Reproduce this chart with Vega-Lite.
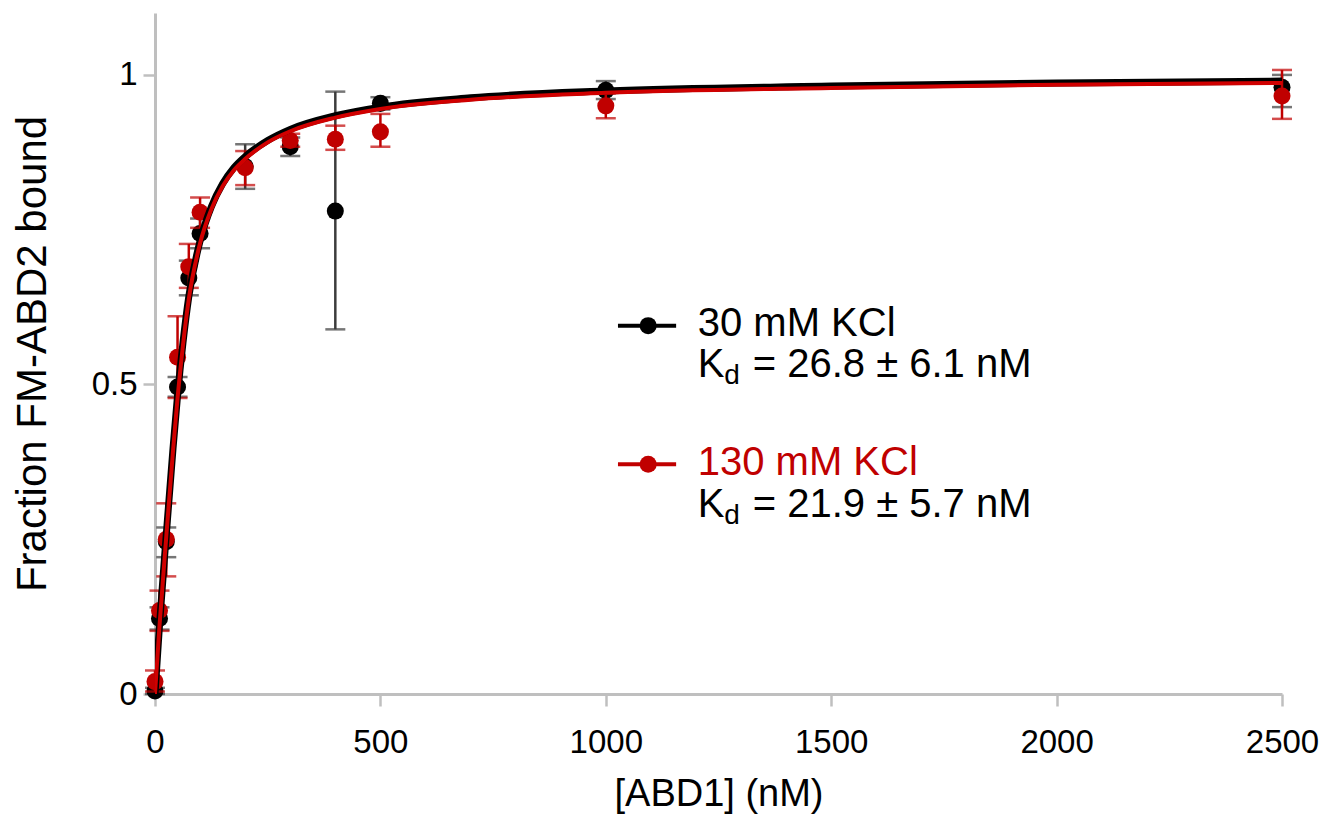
{
  "$schema": "https://vega.github.io/schema/vega-lite/v6.json",
  "width": 1127,
  "height": 681,
  "autosize": {"type": "none"},
  "padding": {"left": 155, "top": 13, "right": 42, "bottom": 125},
  "background": "#ffffff",
  "config": {
    "view": {"stroke": null},
    "font": "Liberation Sans",
    "axis": {
      "grid": false,
      "domainColor": "#bfbfbf",
      "domainWidth": 3,
      "tickColor": "#bfbfbf",
      "tickWidth": 2.5,
      "tickSize": 12,
      "labelColor": "#000000",
      "labelFont": "Liberation Sans",
      "labelFontSize": 33,
      "labelFlush": false,
      "labelOverlap": false,
      "titleFont": "Liberation Sans",
      "titleFontWeight": "normal",
      "titleColor": "#000000"
    }
  },
  "datasets": {
    "points": [
      {"series": "30 mM KCl", "x": 0, "y": 0.005, "lo": 0.0, "hi": 0.01},
      {"series": "30 mM KCl", "x": 10, "y": 0.122, "lo": 0.104, "hi": 0.14},
      {"series": "30 mM KCl", "x": 25, "y": 0.246, "lo": 0.221, "hi": 0.269},
      {"series": "30 mM KCl", "x": 50, "y": 0.496, "lo": 0.48, "hi": 0.512},
      {"series": "30 mM KCl", "x": 75, "y": 0.672, "lo": 0.644, "hi": 0.7},
      {"series": "30 mM KCl", "x": 100, "y": 0.744, "lo": 0.72, "hi": 0.768},
      {"series": "30 mM KCl", "x": 200, "y": 0.852, "lo": 0.816, "hi": 0.888},
      {"series": "30 mM KCl", "x": 300, "y": 0.884, "lo": 0.869, "hi": 0.899},
      {"series": "30 mM KCl", "x": 400, "y": 0.78, "lo": 0.589, "hi": 0.973},
      {"series": "30 mM KCl", "x": 500, "y": 0.954, "lo": 0.944, "hi": 0.964},
      {"series": "30 mM KCl", "x": 1000, "y": 0.975, "lo": 0.961, "hi": 0.99},
      {"series": "30 mM KCl", "x": 2500, "y": 0.98, "lo": 0.948, "hi": 1.0},
      {"series": "130 mM KCl", "x": 0, "y": 0.02, "lo": 0.004, "hi": 0.038},
      {"series": "130 mM KCl", "x": 10, "y": 0.135, "lo": 0.102, "hi": 0.167},
      {"series": "130 mM KCl", "x": 25, "y": 0.25, "lo": 0.19, "hi": 0.308},
      {"series": "130 mM KCl", "x": 50, "y": 0.544, "lo": 0.478, "hi": 0.61},
      {"series": "130 mM KCl", "x": 75, "y": 0.69, "lo": 0.656, "hi": 0.727},
      {"series": "130 mM KCl", "x": 100, "y": 0.778, "lo": 0.753, "hi": 0.802},
      {"series": "130 mM KCl", "x": 200, "y": 0.85, "lo": 0.822, "hi": 0.877},
      {"series": "130 mM KCl", "x": 300, "y": 0.894, "lo": 0.884, "hi": 0.905},
      {"series": "130 mM KCl", "x": 400, "y": 0.896, "lo": 0.879, "hi": 0.918},
      {"series": "130 mM KCl", "x": 500, "y": 0.908, "lo": 0.884, "hi": 0.937},
      {"series": "130 mM KCl", "x": 1000, "y": 0.95, "lo": 0.93, "hi": 0.97},
      {"series": "130 mM KCl", "x": 2500, "y": 0.966, "lo": 0.929, "hi": 1.008}
    ],
    "curve": [
      {"series": "30 mM KCl", "x": 0, "y": 0.0},
      {"series": "30 mM KCl", "x": 10, "y": 0.112},
      {"series": "30 mM KCl", "x": 25, "y": 0.257},
      {"series": "30 mM KCl", "x": 40, "y": 0.397},
      {"series": "30 mM KCl", "x": 50, "y": 0.482},
      {"series": "30 mM KCl", "x": 62, "y": 0.567},
      {"series": "30 mM KCl", "x": 75, "y": 0.642},
      {"series": "30 mM KCl", "x": 100, "y": 0.732},
      {"series": "30 mM KCl", "x": 125, "y": 0.787},
      {"series": "30 mM KCl", "x": 150, "y": 0.824},
      {"series": "30 mM KCl", "x": 175, "y": 0.85},
      {"series": "30 mM KCl", "x": 200, "y": 0.868},
      {"series": "30 mM KCl", "x": 250, "y": 0.894},
      {"series": "30 mM KCl", "x": 300, "y": 0.912},
      {"series": "30 mM KCl", "x": 400, "y": 0.934},
      {"series": "30 mM KCl", "x": 500, "y": 0.948},
      {"series": "30 mM KCl", "x": 700, "y": 0.963},
      {"series": "30 mM KCl", "x": 1000, "y": 0.974},
      {"series": "30 mM KCl", "x": 1500, "y": 0.982},
      {"series": "30 mM KCl", "x": 2000, "y": 0.987},
      {"series": "30 mM KCl", "x": 2500, "y": 0.99},
      {"series": "130 mM KCl", "x": 0, "y": 0.0},
      {"series": "130 mM KCl", "x": 10, "y": 0.11},
      {"series": "130 mM KCl", "x": 25, "y": 0.254},
      {"series": "130 mM KCl", "x": 40, "y": 0.393},
      {"series": "130 mM KCl", "x": 50, "y": 0.478},
      {"series": "130 mM KCl", "x": 62, "y": 0.563},
      {"series": "130 mM KCl", "x": 75, "y": 0.638},
      {"series": "130 mM KCl", "x": 100, "y": 0.728},
      {"series": "130 mM KCl", "x": 125, "y": 0.783},
      {"series": "130 mM KCl", "x": 150, "y": 0.82},
      {"series": "130 mM KCl", "x": 175, "y": 0.846},
      {"series": "130 mM KCl", "x": 200, "y": 0.864},
      {"series": "130 mM KCl", "x": 250, "y": 0.891},
      {"series": "130 mM KCl", "x": 300, "y": 0.909},
      {"series": "130 mM KCl", "x": 400, "y": 0.931},
      {"series": "130 mM KCl", "x": 500, "y": 0.945},
      {"series": "130 mM KCl", "x": 700, "y": 0.96},
      {"series": "130 mM KCl", "x": 1000, "y": 0.971},
      {"series": "130 mM KCl", "x": 1500, "y": 0.979},
      {"series": "130 mM KCl", "x": 2000, "y": 0.984},
      {"series": "130 mM KCl", "x": 2500, "y": 0.987}
    ],
    "legend": [
      {"series": "30 mM KCl", "x1": 1027, "x2": 1156, "xp": 1094, "y": 0.595},
      {"series": "130 mM KCl", "x1": 1027, "x2": 1156, "xp": 1094, "y": 0.371}
    ],
    "legendText": [
      {"series": "30 mM KCl", "name": "30 mM KCl", "xn": 1204, "yn": 0.598, "kd": "= 26.8 ± 6.1 nM", "xk": 1204, "xd": 1263, "xe": 1326, "yk": 0.532, "yd": 0.513},
      {"series": "130 mM KCl", "name": "130 mM KCl", "xn": 1204, "yn": 0.373, "kd": "= 21.9 ± 5.7 nM", "xk": 1204, "xd": 1263, "xe": 1326, "yk": 0.306, "yd": 0.287}
    ]
  },
  "layer": [
    {
      "data": {"name": "points"},
      "transform": [{"filter": "datum.series == '30 mM KCl'"}],
      "mark": {"type": "rule", "color": "#3c3c3c", "strokeWidth": 2.5},
      "encoding": {
        "x": {"field": "x", "type": "quantitative", "scale": {"domain": [0, 2500], "nice": false},
              "axis": {"values": [0, 500, 1000, 1500, 2000, 2500], "format": "d", "title": "[ABD1] (nM)", "titleFontSize": 38, "labelPadding": 20, "titlePadding": 16}},
        "y": {"field": "lo", "type": "quantitative", "scale": {"domain": [0, 1.1], "nice": false},
              "axis": {"values": [0, 0.5, 1], "format": "~g", "title": "Fraction FM-ABD2 bound", "titleFontSize": 42, "labelPadding": 6, "titlePadding": 37}},
        "y2": {"field": "hi"}
      }
    },
    {
      "data": {"name": "points"},
      "transform": [{"filter": "datum.series == '30 mM KCl'"}],
      "mark": {"type": "tick", "orient": "horizontal", "color": "#3c3c3c", "size": 20, "thickness": 2.5},
      "encoding": {"x": {"field": "x", "type": "quantitative"}, "y": {"field": "lo", "type": "quantitative"}}
    },
    {
      "data": {"name": "points"},
      "transform": [{"filter": "datum.series == '30 mM KCl'"}],
      "mark": {"type": "tick", "orient": "horizontal", "color": "#3c3c3c", "size": 20, "thickness": 2.5},
      "encoding": {"x": {"field": "x", "type": "quantitative"}, "y": {"field": "hi", "type": "quantitative"}}
    },
    {
      "data": {"name": "points"},
      "transform": [{"filter": "datum.series == '30 mM KCl'"}],
      "mark": {"type": "point", "shape": "circle", "filled": true, "color": "#000000", "opacity": 1, "size": 290},
      "encoding": {"x": {"field": "x", "type": "quantitative"}, "y": {"field": "y", "type": "quantitative"}}
    },
    {
      "data": {"name": "points"},
      "transform": [{"filter": "datum.series == '130 mM KCl'"}],
      "mark": {"type": "rule", "color": "#c00000", "strokeWidth": 2.5},
      "encoding": {"x": {"field": "x", "type": "quantitative"}, "y": {"field": "lo", "type": "quantitative"}, "y2": {"field": "hi"}}
    },
    {
      "data": {"name": "points"},
      "transform": [{"filter": "datum.series == '130 mM KCl'"}],
      "mark": {"type": "tick", "orient": "horizontal", "color": "#c00000", "size": 20, "thickness": 2.5},
      "encoding": {"x": {"field": "x", "type": "quantitative"}, "y": {"field": "lo", "type": "quantitative"}}
    },
    {
      "data": {"name": "points"},
      "transform": [{"filter": "datum.series == '130 mM KCl'"}],
      "mark": {"type": "tick", "orient": "horizontal", "color": "#c00000", "size": 20, "thickness": 2.5},
      "encoding": {"x": {"field": "x", "type": "quantitative"}, "y": {"field": "hi", "type": "quantitative"}}
    },
    {
      "data": {"name": "points"},
      "transform": [{"filter": "datum.series == '130 mM KCl'"}],
      "mark": {"type": "point", "shape": "circle", "filled": true, "color": "#c00000", "opacity": 1, "size": 290},
      "encoding": {"x": {"field": "x", "type": "quantitative"}, "y": {"field": "y", "type": "quantitative"}}
    },
    {
      "data": {"name": "curve"},
      "transform": [{"filter": "datum.series == '30 mM KCl'"}],
      "mark": {"type": "line", "color": "#000000", "strokeWidth": 7, "interpolate": "monotone", "clip": true},
      "encoding": {"x": {"field": "x", "type": "quantitative"}, "y": {"field": "y", "type": "quantitative"}}
    },
    {
      "data": {"name": "curve"},
      "transform": [{"filter": "datum.series == '130 mM KCl'"}],
      "mark": {"type": "line", "color": "#d00000", "strokeWidth": 4, "interpolate": "monotone", "clip": true},
      "encoding": {"x": {"field": "x", "type": "quantitative"}, "y": {"field": "y", "type": "quantitative"}}
    },
    {
      "data": {"name": "legend"},
      "mark": {"type": "rule", "strokeWidth": 4},
      "encoding": {
        "x": {"field": "x1", "type": "quantitative"},
        "x2": {"field": "x2"},
        "y": {"field": "y", "type": "quantitative"},
        "color": {"field": "series", "type": "nominal", "scale": {"domain": ["30 mM KCl", "130 mM KCl"], "range": ["#000000", "#c00000"]}, "legend": null}
      }
    },
    {
      "data": {"name": "legend"},
      "mark": {"type": "point", "shape": "circle", "filled": true, "opacity": 1, "size": 290},
      "encoding": {
        "x": {"field": "xp", "type": "quantitative"},
        "y": {"field": "y", "type": "quantitative"},
        "color": {"field": "series", "type": "nominal", "legend": null}
      }
    },
    {
      "data": {"name": "legendText"},
      "mark": {"type": "text", "align": "left", "baseline": "middle", "fontSize": 40, "font": "Liberation Sans"},
      "encoding": {
        "x": {"field": "xn", "type": "quantitative"},
        "y": {"field": "yn", "type": "quantitative"},
        "text": {"field": "name"},
        "color": {"field": "series", "type": "nominal", "legend": null}
      }
    },
    {
      "data": {"name": "legendText"},
      "mark": {"type": "text", "align": "left", "baseline": "middle", "fontSize": 40, "font": "Liberation Sans", "color": "#000000", "text": "K"},
      "encoding": {
        "x": {"field": "xk", "type": "quantitative"},
        "y": {"field": "yk", "type": "quantitative"}
      }
    },
    {
      "data": {"name": "legendText"},
      "mark": {"type": "text", "align": "left", "baseline": "middle", "fontSize": 28, "font": "Liberation Sans", "color": "#000000", "text": "d"},
      "encoding": {
        "x": {"field": "xd", "type": "quantitative"},
        "y": {"field": "yd", "type": "quantitative"}
      }
    },
    {
      "data": {"name": "legendText"},
      "mark": {"type": "text", "align": "left", "baseline": "middle", "fontSize": 40, "font": "Liberation Sans", "color": "#000000"},
      "encoding": {
        "x": {"field": "xe", "type": "quantitative"},
        "y": {"field": "yk", "type": "quantitative"},
        "text": {"field": "kd"}
      }
    }
  ]
}
